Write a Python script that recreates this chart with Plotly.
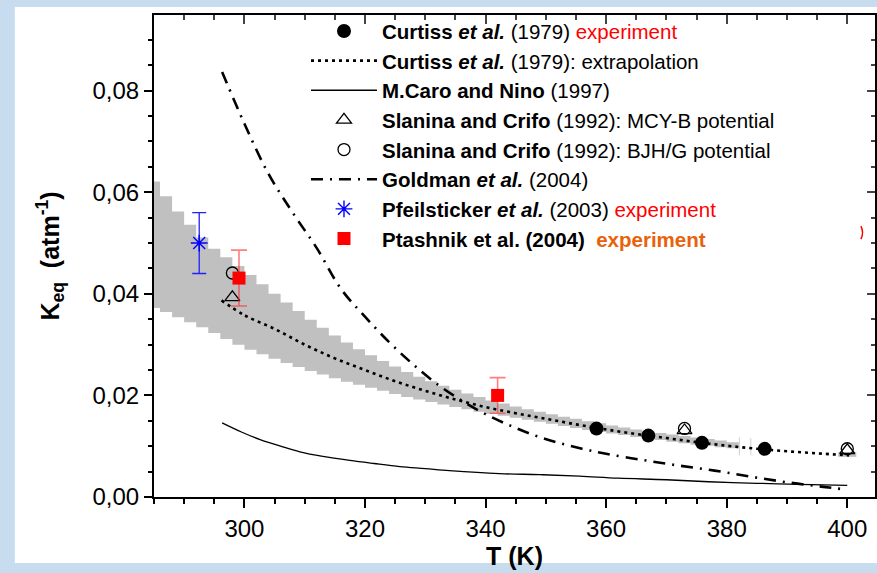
import plotly.graph_objects as go

# ---------------- data ----------------
# Curtiss et al. (1979) experiment
curtiss_T = [358.4, 367.0, 375.9, 386.3]
curtiss_K = [0.01347, 0.01209, 0.01066, 0.00948]

# Curtiss et al. (1979): extrapolation (dotted)
extrap_T = [296.2, 300, 305, 310, 315, 320, 325, 330, 335, 340, 345, 350, 355, 360,
            365, 370, 375, 380, 385, 390, 395, 400.3]
extrap_K = [0.0387, 0.0358, 0.0331, 0.0300, 0.0273, 0.0250, 0.0228, 0.0209, 0.0192,
            0.0177, 0.0165, 0.0154, 0.0143, 0.0133, 0.0124, 0.0116, 0.0108, 0.0101,
            0.0095, 0.0090, 0.0086, 0.0082]

# M.Caro and Nino (1997) (solid)
caro_T = [296.3, 299.5, 302.6, 306, 309.2, 313, 317.5, 321.5, 325.8, 330, 334, 342.3,
          349, 355.6, 362, 370, 377, 385, 392, 400]
caro_K = [0.0146, 0.0128, 0.0113, 0.0100, 0.0089, 0.0080, 0.0072, 0.0066, 0.0060,
          0.0056, 0.0052, 0.0046, 0.0044, 0.0041, 0.0037, 0.0034, 0.0030, 0.0027,
          0.0025, 0.0023]

# Slanina and Crifo (1992)
slan_mcy_T = [298.0, 373.0, 400.0]
slan_mcy_K = [0.0393, 0.0131, 0.0092]
slan_bjh_T = [298.0, 373.0, 400.0]
slan_bjh_K = [0.0441, 0.0135, 0.0095]

# Goldman et al. (2004) (dash-dot)
gold_T = [296.3, 300, 304, 308, 312, 316, 320, 324, 328, 332, 336, 340, 344, 348,
          352, 356, 360, 366, 372, 378, 384, 390, 396, 399.5]
gold_K = [0.0837, 0.0735, 0.0636, 0.0560, 0.0490, 0.0410, 0.0355, 0.0305, 0.0261,
          0.0222, 0.0190, 0.0163, 0.0141, 0.0122, 0.0107, 0.0095, 0.0085, 0.0073,
          0.0062, 0.0052, 0.0040, 0.0029, 0.0020, 0.0015]

# Pfeilsticker et al. (2003) experiment
pfeil_T = [292.5]
pfeil_K = [0.0500]
pfeil_err = [0.0060]

# Ptashnik et al. (2004) experiment
ptash_T = [299.1, 342.0]
ptash_K = [0.0431, 0.0200]
ptash_err = [0.0055, 0.0035]

# grey uncertainty band (step edges, upper/lower value of each step)
band_edges = [285, 286, 288, 290, 292, 294, 296, 298, 300, 302, 304, 306, 308, 310,
              312, 314, 316, 318, 320, 322, 324, 326, 328, 330, 332, 334, 336, 338,
              340, 342, 344, 346, 348, 350, 352, 354, 356, 358, 360, 362, 364, 366,
              368, 370, 372, 374, 376, 378, 380, 382]
band_upper = [0.0621, 0.0592, 0.0562, 0.0536, 0.0511, 0.0489, 0.0472, 0.0455, 0.0437,
              0.0419, 0.0400, 0.0383, 0.0366, 0.0349, 0.0333, 0.0318, 0.0304, 0.0291,
              0.0279, 0.0268, 0.0257, 0.0246, 0.0237, 0.0228, 0.0219, 0.0211, 0.0204,
              0.0197, 0.0190, 0.0184, 0.0178, 0.0173, 0.0168, 0.0163, 0.0158, 0.0154,
              0.0149, 0.0145, 0.0141, 0.0137, 0.0133, 0.0130, 0.0126, 0.0123, 0.0120,
              0.0117, 0.0114, 0.0111, 0.0108]
band_lower = [0.0372, 0.0364, 0.0354, 0.0344, 0.0334, 0.0323, 0.0311, 0.0300, 0.0290,
              0.0281, 0.0272, 0.0264, 0.0256, 0.0248, 0.0241, 0.0234, 0.0227, 0.0221,
              0.0215, 0.0209, 0.0203, 0.0197, 0.0192, 0.0187, 0.0182, 0.0177, 0.0173,
              0.0168, 0.0164, 0.0160, 0.0156, 0.0152, 0.0148, 0.0144, 0.0140, 0.0136,
              0.0132, 0.0128, 0.0125, 0.0122, 0.0118, 0.0115, 0.0112, 0.0109, 0.0106,
              0.0103, 0.0101, 0.0098, 0.0096]
band2_edges = [398.5, 401.5]
band2_upper = [0.0088]
band2_lower = [0.0079]
band_ticks_T = [382.1, 384.0]
band_ticks_lo = [0.0082, 0.0082]
band_ticks_hi = [0.0118, 0.0116]

x_ticks = [300, 320, 340, 360, 380, 400]
y_ticks = [0.00, 0.02, 0.04, 0.06, 0.08]

FONT = "Liberation Sans, Arial, sans-serif"
GREY = "#c0c0c0"

fig = go.Figure()

# band (step shape)
def steps(vals):
    return list(vals) + [vals[-1]]

fig.add_trace(go.Scatter(x=band_edges, y=steps(band_lower), mode="lines",
                         line=dict(width=0, shape="hv", color=GREY),
                         showlegend=False, hoverinfo="skip"))
fig.add_trace(go.Scatter(x=band_edges, y=steps(band_upper), mode="lines",
                         line=dict(width=0, shape="hv", color=GREY),
                         fill="tonexty", fillcolor=GREY,
                         showlegend=False, hoverinfo="skip"))
fig.add_trace(go.Scatter(x=band2_edges, y=steps(band2_lower), mode="lines",
                         line=dict(width=0, shape="hv", color=GREY),
                         showlegend=False, hoverinfo="skip"))
fig.add_trace(go.Scatter(x=band2_edges, y=steps(band2_upper), mode="lines",
                         line=dict(width=0, shape="hv", color=GREY),
                         fill="tonexty", fillcolor=GREY,
                         showlegend=False, hoverinfo="skip"))
vx, vy = [], []
for t, lo, hi in zip(band_ticks_T, band_ticks_lo, band_ticks_hi):
    vx += [t, t, None]
    vy += [lo, hi, None]
fig.add_trace(go.Scatter(x=vx, y=vy, mode="lines", line=dict(width=1, color="#d0d0d0"),
                         showlegend=False, hoverinfo="skip"))

# lines
fig.add_trace(go.Scatter(
    x=extrap_T, y=extrap_K, mode="lines", line_shape="spline",
    line=dict(color="black", width=2.6, dash="3px,4px"),
    name="<b>Curtiss <i>et al.</i></b> (1979): extrapolation", legendrank=2))
fig.add_trace(go.Scatter(
    x=caro_T, y=caro_K, mode="lines", line_shape="spline",
    line=dict(color="black", width=1.3),
    name="<b>M.Caro and Nino</b> (1997)", legendrank=3))
fig.add_trace(go.Scatter(
    x=gold_T, y=gold_K, mode="lines", line_shape="spline",
    line=dict(color="black", width=2.6, dash="12px,7px,2px,7px"),
    name="<b>Goldman <i>et al.</i></b> (2004)", legendrank=6))

# markers
fig.add_trace(go.Scatter(
    x=curtiss_T, y=curtiss_K, mode="markers",
    marker=dict(symbol="circle", size=14, color="black"),
    name="<b>Curtiss <i>et al.</i></b> (1979) <span style='color:#ff0000'>experiment</span>",
    legendrank=1))
fig.add_trace(go.Scatter(
    x=slan_mcy_T, y=slan_mcy_K, mode="markers",
    marker=dict(symbol="triangle-up-open", size=13, color="black", line=dict(width=1.3)),
    name="<b>Slanina and Crifo</b> (1992): MCY-B potential", legendrank=4))
fig.add_trace(go.Scatter(
    x=slan_bjh_T, y=slan_bjh_K, mode="markers",
    marker=dict(symbol="circle-open", size=12, color="black", line=dict(width=1.3)),
    name="<b>Slanina and Crifo</b> (1992): BJH/G potential", legendrank=5))
fig.add_trace(go.Scatter(
    x=pfeil_T, y=pfeil_K, mode="markers",
    marker=dict(symbol="asterisk-open", size=14, color="#0000ff", line=dict(width=1.4, color="#0000ff")),
    error_y=dict(type="data", array=pfeil_err, color="#2020ff", thickness=1.3, width=7),
    name="<b>Pfeilsticker <i>et al.</i></b> (2003) <span style='color:#ff0000'>experiment</span>",
    legendrank=7))
fig.add_trace(go.Scatter(
    x=ptash_T, y=ptash_K, mode="markers",
    marker=dict(symbol="square", size=13, color="#ff0000"),
    error_y=dict(type="data", array=ptash_err, color="rgba(255,40,40,0.6)", thickness=1.6, width=8),
    name="<b>Ptashnik et al. (2004)</b>  <span style='color:#e8620c'><b>experiment</b></span>",
    legendrank=8))

# invisible trace for mirrored (top/right) axes
fig.add_trace(go.Scatter(x=[None], y=[None], xaxis="x2", yaxis="y2",
                         showlegend=False, hoverinfo="skip"))

XR = [285, 404.6]
YR = [0, 0.0949]

fig.update_layout(
    width=877, height=573, autosize=False,
    margin=dict(l=154, r=2, t=15, b=76),
    paper_bgcolor="#c8dcf0", plot_bgcolor="white",
    separators=", ",
    font=dict(family=FONT, color="black", size=20),
    showlegend=True,
    legend=dict(x=0.2108, y=1.008, xanchor="left", yanchor="top",
                bgcolor="rgba(0,0,0,0)", borderwidth=0, traceorder="normal",
                font=dict(family=FONT, size=20.5, color="black"),
                tracegroupgap=0, itemwidth=66),
    xaxis=dict(range=XR, showline=True, linewidth=2, linecolor="black", mirror=False,
               ticks="outside", ticklen=9, tickwidth=2, tickcolor="black",
               tickvals=x_ticks, showgrid=False, zeroline=False,
               tickfont=dict(size=24, family=FONT),
               minor=dict(dtick=5, tick0=285, ticks="outside", ticklen=5, tickwidth=1.5, tickcolor="black", showgrid=False),
               title=dict(text="<b>T (K)</b>", font=dict(size=25, family=FONT), standoff=6)),
    yaxis=dict(range=YR, showline=True, linewidth=2, linecolor="black",
               ticks="outside", ticklen=8, tickwidth=2, tickcolor="black",
               tickvals=y_ticks, tickformat=".2f", showgrid=False, zeroline=False,
               tickfont=dict(size=24, family=FONT),
               minor=dict(dtick=0.005, tick0=0, ticks="outside", ticklen=4, tickwidth=1.5, tickcolor="black", showgrid=False),
               title=dict(text="<b>K<sub>eq</sub>  (atm<sup>-1</sup>)</b>", font=dict(size=25, family=FONT), standoff=26)),
    xaxis2=dict(range=XR, overlaying="x", side="top", anchor="y2", showline=True,
                linewidth=2, linecolor="black", ticks="inside", ticklen=9, tickwidth=2,
                tickvals=x_ticks, showticklabels=False, showgrid=False, zeroline=False,
                minor=dict(dtick=5, tick0=285, ticks="inside", ticklen=5, tickwidth=1.5, showgrid=False)),
    yaxis2=dict(range=YR, overlaying="y", side="right", anchor="x2", showline=True,
                linewidth=2, linecolor="black", ticks="inside", ticklen=8, tickwidth=2,
                tickvals=y_ticks, showticklabels=False, showgrid=False, zeroline=False,
                minor=dict(dtick=0.005, tick0=0, ticks="inside", ticklen=4, tickwidth=1.5, showgrid=False)),
    shapes=[dict(type="rect", xref="paper", yref="paper", layer="below",
                 x0=-0.193, x1=1.01, y0=-0.137, y1=1.0166,
                 fillcolor="white", line=dict(width=0)),
            dict(type="path", xref="paper", yref="paper",
                 path="M 0.9805,0.562 Q 0.9850,0.549 0.9805,0.535",
                 line=dict(color="#ff0000", width=1.5))],
)

fig.write_html("out.html")
